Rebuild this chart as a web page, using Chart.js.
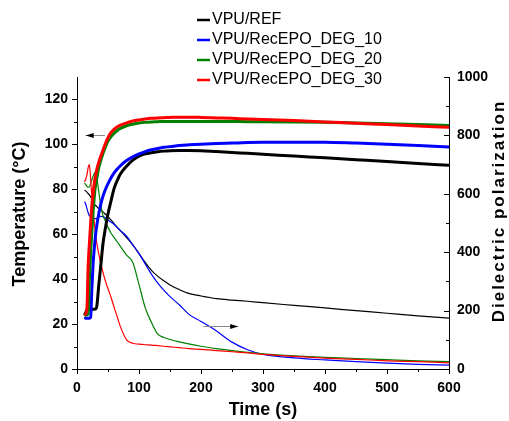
<!DOCTYPE html>
<html>
<head>
<meta charset="utf-8">
<script src="https://cdn.jsdelivr.net/npm/chart.js@4.4.1/dist/chart.umd.min.js"></script>
<style>
  html, body { margin: 0; padding: 0; background: #fff; }
  #wrap { width: 509px; height: 421px; }
</style>
</head>
<body>
<div id="wrap"><canvas id="dpChart"></canvas></div>
<script>
// time axis shared by all curves (s)
const timeS = [12, 14, 16, 18, 20, 22, 24, 26, 28, 30, 32, 35, 38, 42, 46, 50, 55, 60, 65, 70,
  80, 90, 100, 110, 120, 130, 140, 150, 165, 180, 200, 225, 250, 275, 300, 350, 400, 450, 500, 550, 600];

// temperature (°C), left axis
const refTemp = [24, 25, 26.5, 26.6, 26.6, 26.6, 26.6, 26.6, 26.6, 26.7, 28, 37, 45, 56, 63, 69, 75, 80.5, 84, 86.8,
  90.3, 93, 94.8, 95.8, 96.3, 96.7, 97, 97.2, 97.3, 97.3, 97.2, 96.8, 96.4, 96, 95.6, 94.8, 94, 93.2, 92.4, 91.5, 90.7];
const deg10Temp = [23, 22.6, 22.6, 22.6, 22.6, 23, 36, 47, 54, 60, 64, 69, 73, 77, 80, 82.5, 85.2, 87.3, 89, 90.5,
  92.8, 94.5, 95.8, 96.8, 97.6, 98.2, 98.7, 99, 99.5, 99.8, 100.1, 100.4, 100.6, 100.8, 100.9, 101, 101, 100.6, 100.1, 99.5, 98.8];
const deg20Temp = [23.5, 24, 24, 25, 40, 52, 61, 70, 77, 82, 85, 89.5, 92.5, 96, 99, 101.5, 103.5, 105, 106.2, 107.1,
  108.3, 109, 109.5, 109.8, 110, 110.1, 110.2, 110.2, 110.2, 110.2, 110.2, 110.2, 110.2, 110.1, 110.1, 110, 109.8, 109.5, 109.2, 108.8, 108.4];
const deg30Temp = [24, 24.5, 27, 46, 56, 65, 73, 78, 83, 86, 89, 92, 94.5, 97.5, 100.5, 103, 105.3, 106.8, 107.9, 108.6,
  109.6, 110.4, 110.9, 111.3, 111.6, 111.8, 111.9, 112, 112.1, 112.1, 112, 111.8, 111.6, 111.3, 111.1, 110.6, 110, 109.4, 108.8, 108.2, 107.6];

// dielectric polarization, right axis
const refDiel = [612, 610, 606, 601, 596, 590, 580, 570, 565, 560, 556, 550, 545, 538, 530, 522, 510, 497, 485, 474,
  450, 425, 395, 365, 338, 318, 302, 288, 272, 259, 250, 241, 236, 232, 227, 218, 209, 200, 191, 182, 174];
const deg10Diel = [573, 565, 550, 535, 525, 520, 518, 516, 515, 515, 516, 520, 523, 522, 517, 510, 503, 495, 484, 474,
  455, 425, 395, 360, 325, 295, 270, 248, 220, 188, 163, 130, 92, 66, 50, 38, 31, 25, 20, 16, 13];
const deg20Diel = [636, 632, 626, 622, 625, 635, 648, 660, 670, 675, 655, 610, 565, 525, 505, 485, 465, 450, 435, 420,
  390, 365, 290, 210, 160, 120, 108, 101, 93, 86, 78, 70, 63, 57, 52, 45, 40, 36, 32, 28, 25];
const deg30Diel = [640, 650, 665, 690, 700, 650, 590, 540, 500, 460, 430, 395, 365, 330, 300, 275, 245, 210, 178, 145,
  100, 88, 85, 83, 82, 80, 78, 76, 73, 70, 67, 63, 59, 55, 50, 43, 37, 33, 28, 25, 21];

const seriesLabels = ['VPU/REF', 'VPU/RecEPO_DEG_10', 'VPU/RecEPO_DEG_20', 'VPU/RecEPO_DEG_30'];
const seriesColors = ['#000000', '#0000ff', '#008000', '#ff0000'];
const tempSeries = [refTemp, deg10Temp, deg20Temp, deg30Temp];
const dielSeries = [refDiel, deg10Diel, deg20Diel, deg30Diel];

const timeTicks = [0, 100, 200, 300, 400, 500, 600];
const tempTicks = [0, 20, 40, 60, 80, 100, 120];
const dielTicks = [0, 200, 400, 600, 800, 1000];

const FONT = "'Liberation Sans', Arial, sans-serif";
Chart.defaults.font.family = FONT;
Chart.defaults.font.size = 14;
Chart.defaults.font.weight = 'bold';
Chart.defaults.color = '#000';

function pts(vals) {
  return timeS.map((t, i) => ({ x: t, y: vals[i] }));
}

const datasets = [];
tempSeries.forEach((vals, i) => {
  datasets.push({
    label: seriesLabels[i], data: pts(vals), yAxisID: 'y',
    borderColor: seriesColors[i], borderWidth: 3, pointRadius: 0,
    cubicInterpolationMode: 'monotone', order: 4 - i
  });
});
dielSeries.forEach((vals, i) => {
  datasets.push({
    label: seriesLabels[i] + ' (diel)', data: pts(vals), yAxisID: 'y1',
    borderColor: seriesColors[i], borderWidth: 1.2, pointRadius: 0,
    cubicInterpolationMode: 'monotone', order: 10 - i
  });
});

// ticks, minor ticks, arrows, titles and legend
const decor = {
  id: 'decor',
  afterDraw(chart) {
    const ctx = chart.ctx;
    const a = chart.chartArea;
    const sx = chart.scales.x, sy = chart.scales.y, sy1 = chart.scales.y1;
    ctx.save();
    ctx.strokeStyle = '#000';
    ctx.lineWidth = 1;
    ctx.beginPath();
    for (let v = 0; v <= 600; v += 50) {
      const px = Math.round(sx.getPixelForValue(v)) + 0.5;
      const len = timeTicks.includes(v) ? 5 : 3;
      ctx.moveTo(px, a.bottom); ctx.lineTo(px, a.bottom + len);
    }
    for (let v = 0; v <= 120; v += 10) {
      const py = Math.round(sy.getPixelForValue(v)) + 0.5;
      const len = tempTicks.includes(v) ? 5 : 3;
      ctx.moveTo(a.left, py); ctx.lineTo(a.left - len, py);
    }
    for (let v = 0; v <= 1000; v += 100) {
      const py = Math.round(sy1.getPixelForValue(v)) + 0.5;
      const len = dielTicks.includes(v) ? 5 : 3;
      ctx.moveTo(a.right, py); ctx.lineTo(a.right - len, py);
    }
    ctx.stroke();

    // arrows pointing at the axis each curve group belongs to
    function arrow(x0, x1, y) {
      ctx.strokeStyle = '#888';
      ctx.lineWidth = 1;
      ctx.beginPath(); ctx.moveTo(x0, y); ctx.lineTo(x1, y); ctx.stroke();
      const dir = Math.sign(x1 - x0);
      ctx.fillStyle = '#000';
      ctx.beginPath();
      ctx.moveTo(x1, y); ctx.lineTo(x1 - dir * 8, y - 2.5); ctx.lineTo(x1 - dir * 8, y + 2.5);
      ctx.closePath(); ctx.fill();
    }
    arrow(sx.getPixelForValue(45), sx.getPixelForValue(14), Math.round(sy.getPixelForValue(104)) + 0.5);
    arrow(sx.getPixelForValue(204), sx.getPixelForValue(260), Math.round(sy1.getPixelForValue(148)) + 0.5);

    // axis titles
    ctx.fillStyle = '#000';
    ctx.textAlign = 'center';
    ctx.textBaseline = 'middle';
    ctx.font = 'bold 18px ' + FONT;
    ctx.fillText('Time (s)', (a.left + a.right) / 2, 410);
    ctx.save();
    ctx.translate(20, 214);
    ctx.rotate(-Math.PI / 2);
    ctx.fillText('Temperature (\u00B0C)', 0, 0);
    ctx.restore();
    ctx.save();
    ctx.translate(499, 211);
    ctx.rotate(-Math.PI / 2);
    ctx.font = 'bold 17px ' + FONT;
    ctx.letterSpacing = '2px';
    ctx.fillText('Dielectric polarization', 0, 0);
    ctx.restore();

    // legend
    ctx.font = '16px ' + FONT;
    ctx.textAlign = 'left';
    seriesLabels.forEach((lab, i) => {
      const y = 20 + i * 20;
      ctx.strokeStyle = seriesColors[i];
      ctx.lineWidth = 2.5;
      ctx.beginPath(); ctx.moveTo(197, y); ctx.lineTo(210, y); ctx.stroke();
      ctx.fillStyle = '#000';
      ctx.fillText(lab, 212, y);
    });
    ctx.restore();
  }
};

function fixedTicks(list) {
  return function (scale) { scale.ticks = list.map(v => ({ value: v })); };
}

const plainLabel = v => String(v);

new Chart(document.getElementById('dpChart'), {
  type: 'line',
  data: { datasets: datasets },
  options: {
    responsive: true,
    maintainAspectRatio: false,
    animation: false,
    layout: { padding: { top: 77, left: 0, right: 0, bottom: 0 } },
    plugins: { legend: { display: false }, tooltip: { enabled: false } },
    scales: {
      x: {
        type: 'linear', min: 0, max: 600,
        afterBuildTicks: fixedTicks(timeTicks),
        afterFit(scale) { scale.height = 52; },
        grid: { display: false, drawTicks: false },
        border: { display: true, color: '#000', width: 1 },
        ticks: { color: '#000', font: { weight: 'bold', size: 14 }, padding: 11, maxRotation: 0, callback: plainLabel }
      },
      y: {
        position: 'left', min: 0, max: 130,
        afterBuildTicks: fixedTicks(tempTicks),
        afterFit(scale) { scale.width = 77; },
        grid: { display: false, drawTicks: false },
        border: { display: true, color: '#000', width: 1 },
        ticks: { color: '#000', font: { weight: 'bold', size: 14 }, padding: 9, callback: plainLabel }
      },
      y1: {
        position: 'right', min: 0, max: 1000,
        afterBuildTicks: fixedTicks(dielTicks),
        afterFit(scale) { scale.width = 60; },
        grid: { display: false, drawTicks: false },
        border: { display: true, color: '#000', width: 1 },
        ticks: { color: '#000', font: { weight: 'bold', size: 14 }, padding: 8, callback: plainLabel }
      }
    }
  },
  plugins: [decor]
});
</script>
</body>
</html>
